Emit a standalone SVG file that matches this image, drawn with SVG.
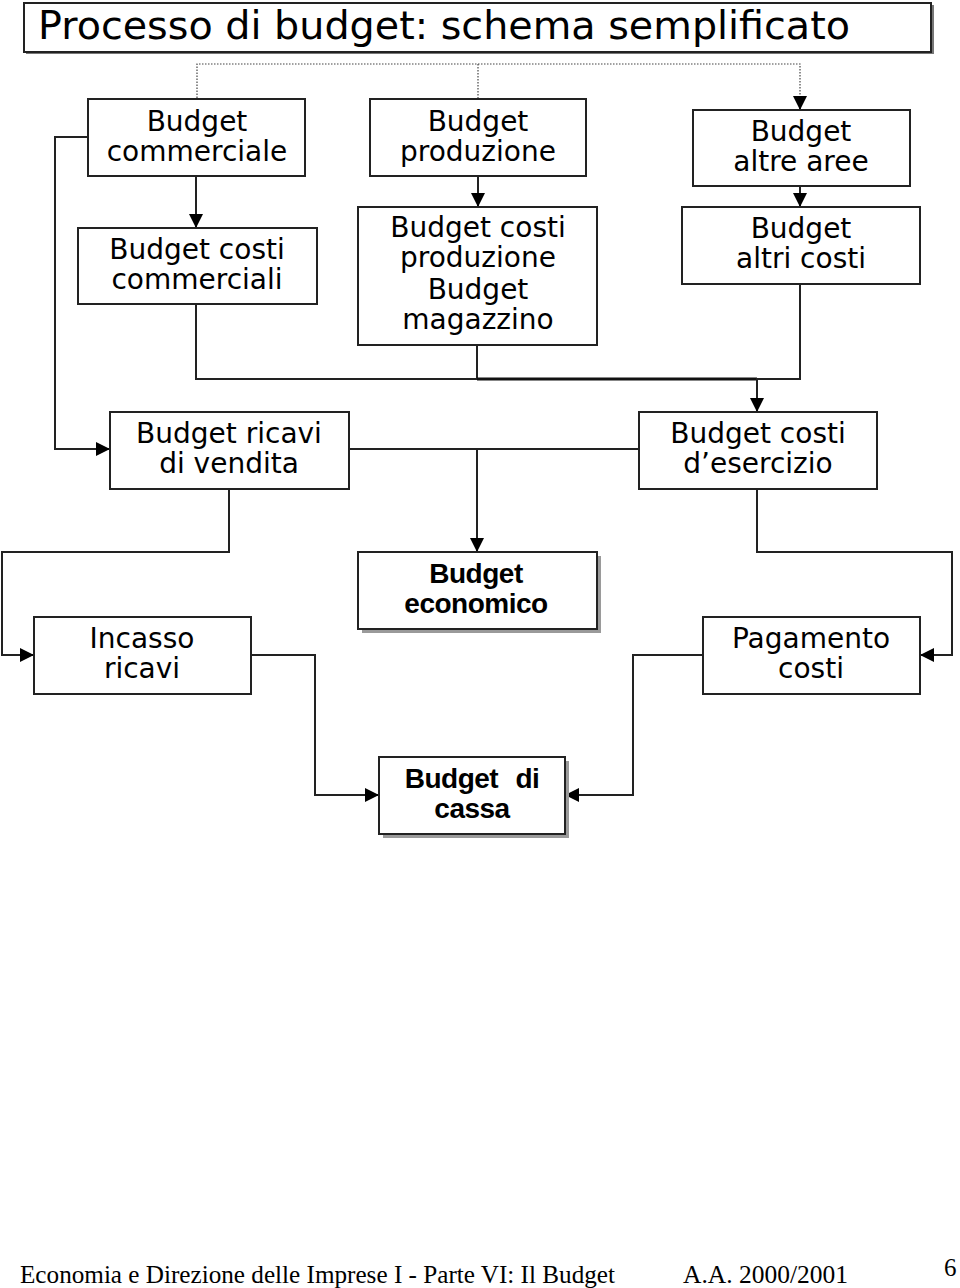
<svg xmlns="http://www.w3.org/2000/svg" width="960" height="1288" viewBox="0 0 960 1288">
<style>
.box{fill:#fff;stroke:#222;stroke-width:2}
.shadow{fill:#9a9a9a}
.t{font-family:"DejaVu Sans","Comic Sans MS",sans-serif;font-size:28px;fill:#000;text-anchor:middle}
.b{font-family:"Liberation Sans",Arial,sans-serif;font-size:28px;font-weight:bold;fill:#000;text-anchor:middle;letter-spacing:-0.5px}
.ln{fill:none;stroke:#222;stroke-width:2}
.dot{fill:none;stroke:#444;stroke-width:1.2;stroke-dasharray:1.5 1.5}
.foot{font-family:"Liberation Serif","Times New Roman",serif;fill:#000}
</style>
<defs>
<marker id="ah" viewBox="0 0 10 10" refX="10" refY="5" markerWidth="14" markerHeight="14" markerUnits="userSpaceOnUse" orient="auto">
<path d="M0,0 L10,5 L0,10 z" fill="#000"/>
</marker>
</defs>
<rect width="960" height="1288" fill="#fff"/>

<g id="title">
<rect x="26" y="5" width="908" height="49" fill="#777"/>
<rect x="24" y="3" width="907" height="49" class="box"/>
<text x="38" y="39" font-family="DejaVu Sans, sans-serif" font-size="39" textLength="812" lengthAdjust="spacingAndGlyphs">Processo di budget: schema semplificato</text>
</g>

<g id="connectors">
<path class="dot" d="M197,98 V64 H800 V96"/>
<path class="dot" d="M478,64 V98"/>
<path class="ln" d="M800,96 V110" marker-end="url(#ah)"/>
<path class="ln" d="M196,176 V228" marker-end="url(#ah)"/>
<path class="ln" d="M478,176 V207" marker-end="url(#ah)"/>
<path class="ln" d="M800,186 V207" marker-end="url(#ah)"/>
<path class="ln" d="M88,137 H55 V449 H110" marker-end="url(#ah)"/>
<path class="ln" d="M196,304 V379 H478"/>
<path class="ln" d="M477,345 V379"/>
<path fill="none" stroke="#111" stroke-width="3.2" d="M477,379 H757"/>
<path class="ln" d="M800,284 V379 H757 V412" marker-end="url(#ah)"/>
<path class="ln" d="M349,449 H639"/>
<path class="ln" d="M477,449 V552" marker-end="url(#ah)"/>
<path class="ln" d="M229,489 V552 H2 V655 H34" marker-end="url(#ah)"/>
<path class="ln" d="M757,489 V552 H952 V655 H920" marker-end="url(#ah)"/>
<path class="ln" d="M251,655 H315 V795 H379" marker-end="url(#ah)"/>
<path class="ln" d="M703,655 H633 V795 H565" marker-end="url(#ah)"/>
</g>

<g id="budget-commerciale">
<rect x="88" y="99" width="217" height="77" class="box"/>
<text class="t" x="197" y="131">Budget</text>
<text class="t" x="197" y="161">commerciale</text>
</g>
<g id="budget-produzione">
<rect x="370" y="99" width="216" height="77" class="box"/>
<text class="t" x="478" y="131">Budget</text>
<text class="t" x="478" y="161">produzione</text>
</g>
<g id="budget-altre-aree">
<rect x="693" y="110" width="217" height="76" class="box"/>
<text class="t" x="801" y="141">Budget</text>
<text class="t" x="801" y="171">altre aree</text>
</g>
<g id="budget-costi-commerciali">
<rect x="78" y="228" width="239" height="76" class="box"/>
<text class="t" x="197" y="259">Budget costi</text>
<text class="t" x="197" y="289">commerciali</text>
</g>
<g id="budget-costi-produzione">
<rect x="358" y="207" width="239" height="138" class="box"/>
<text class="t" x="478" y="237">Budget costi</text>
<text class="t" x="478" y="267">produzione</text>
<text class="t" x="478" y="299">Budget</text>
<text class="t" x="478" y="329">magazzino</text>
</g>
<g id="budget-altri-costi">
<rect x="682" y="207" width="238" height="77" class="box"/>
<text class="t" x="801" y="238">Budget</text>
<text class="t" x="801" y="268">altri costi</text>
</g>
<g id="budget-ricavi-vendita">
<rect x="110" y="412" width="239" height="77" class="box"/>
<text class="t" x="229" y="443">Budget ricavi</text>
<text class="t" x="229" y="473">di vendita</text>
</g>
<g id="budget-costi-esercizio">
<rect x="639" y="412" width="238" height="77" class="box"/>
<text class="t" x="758" y="443">Budget costi</text>
<text class="t" x="758" y="473">d’esercizio</text>
</g>
<g id="budget-economico">
<rect x="362" y="556" width="239" height="77" class="shadow"/>
<rect x="358" y="552" width="239" height="77" class="box"/>
<text class="b" x="476" y="583">Budget</text>
<text class="b" x="476" y="613">economico</text>
</g>
<g id="incasso-ricavi">
<rect x="34" y="617" width="217" height="77" class="box"/>
<text class="t" x="142" y="648">Incasso</text>
<text class="t" x="142" y="678">ricavi</text>
</g>
<g id="pagamento-costi">
<rect x="703" y="617" width="217" height="77" class="box"/>
<text class="t" x="811" y="648">Pagamento</text>
<text class="t" x="811" y="678">costi</text>
</g>
<g id="budget-cassa">
<rect x="383" y="761" width="186" height="77" class="shadow"/>
<rect x="379" y="757" width="186" height="77" class="box"/>
<text class="b" x="472" y="788" word-spacing="10">Budget di</text>
<text class="b" x="472" y="818">cassa</text>
</g>

<g id="footer">
<text class="foot" x="20" y="1283" font-size="25" textLength="595" lengthAdjust="spacingAndGlyphs">Economia e Direzione delle Imprese I - Parte VI: Il Budget</text>
<text class="foot" x="683" y="1283" font-size="25" textLength="165" lengthAdjust="spacingAndGlyphs">A.A. 2000/2001</text>
<text class="foot" x="944" y="1276" font-size="25">6</text>
</g>
</svg>
